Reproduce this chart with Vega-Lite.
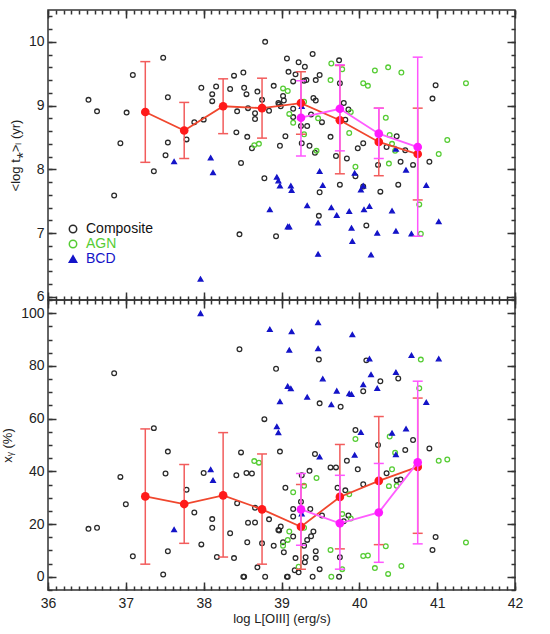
{
  "$schema": "https://vega.github.io/schema/vega-lite/v6.json",
  "padding": {"left": 0, "top": 8, "right": 5, "bottom": 0},
  "background": "white",
  "bounds": "flush",
  "config": {
    "view": {"stroke": "#333", "strokeWidth": 1.5},
    "axis": {
      "domain": false,
      "grid": false,
      "zindex": 1,
      "labelFont": "Liberation Sans",
      "labelFontSize": 14,
      "labelColor": "#222",
      "titleFont": "Liberation Sans",
      "titleFontSize": 13,
      "titleFontWeight": "normal",
      "titleColor": "#222",
      "labelOverlap": false,
      "labelFlush": false
    }
  },
  "datasets": {
    "top": [
      {"type": "Composite", "logL": 36.52, "age": 9.09}, {"type": "Composite", "logL": 36.63, "age": 8.91},
      {"type": "Composite", "logL": 36.85, "age": 7.59}, {"type": "Composite", "logL": 36.93, "age": 8.41},
      {"type": "Composite", "logL": 37.01, "age": 8.89}, {"type": "Composite", "logL": 37.09, "age": 9.48},
      {"type": "Composite", "logL": 37.36, "age": 7.97}, {"type": "Composite", "logL": 37.48, "age": 9.75},
      {"type": "Composite", "logL": 37.51, "age": 8.22}, {"type": "Composite", "logL": 37.54, "age": 9.13},
      {"type": "Composite", "logL": 37.54, "age": 8.42}, {"type": "Composite", "logL": 37.78, "age": 8.47},
      {"type": "Composite", "logL": 37.88, "age": 8.74}, {"type": "Composite", "logL": 37.97, "age": 9.28},
      {"type": "Composite", "logL": 38.0, "age": 8.78}, {"type": "Composite", "logL": 38.11, "age": 9.18},
      {"type": "Composite", "logL": 38.11, "age": 9.07}, {"type": "Composite", "logL": 38.16, "age": 9.3},
      {"type": "Composite", "logL": 38.34, "age": 9.26}, {"type": "Composite", "logL": 38.39, "age": 9.47},
      {"type": "Composite", "logL": 38.42, "age": 8.58}, {"type": "Composite", "logL": 38.43, "age": 8.91},
      {"type": "Composite", "logL": 38.46, "age": 6.98}, {"type": "Composite", "logL": 38.48, "age": 8.1},
      {"type": "Composite", "logL": 38.51, "age": 9.52}, {"type": "Composite", "logL": 38.52, "age": 9.28},
      {"type": "Composite", "logL": 38.55, "age": 9.18}, {"type": "Composite", "logL": 38.56, "age": 8.51},
      {"type": "Composite", "logL": 38.57, "age": 8.96}, {"type": "Composite", "logL": 38.62, "age": 8.33},
      {"type": "Composite", "logL": 38.66, "age": 8.88}, {"type": "Composite", "logL": 38.66, "age": 8.79},
      {"type": "Composite", "logL": 38.69, "age": 9.22}, {"type": "Composite", "logL": 38.75, "age": 9.09},
      {"type": "Composite", "logL": 38.78, "age": 7.86}, {"type": "Composite", "logL": 38.79, "age": 10.0},
      {"type": "Composite", "logL": 38.84, "age": 8.92}, {"type": "Composite", "logL": 38.9, "age": 9.31},
      {"type": "Composite", "logL": 38.93, "age": 6.95}, {"type": "Composite", "logL": 38.96, "age": 9.04},
      {"type": "Composite", "logL": 38.97, "age": 9.02}, {"type": "Composite", "logL": 38.98, "age": 8.37},
      {"type": "Composite", "logL": 38.99, "age": 8.99}, {"type": "Composite", "logL": 39.02, "age": 9.15},
      {"type": "Composite", "logL": 39.03, "age": 9.08}, {"type": "Composite", "logL": 39.05, "age": 8.52},
      {"type": "Composite", "logL": 39.07, "age": 9.74}, {"type": "Composite", "logL": 39.09, "age": 9.53},
      {"type": "Composite", "logL": 39.15, "age": 8.95}, {"type": "Composite", "logL": 39.15, "age": 9.38},
      {"type": "Composite", "logL": 39.15, "age": 8.82}, {"type": "Composite", "logL": 39.18, "age": 9.49},
      {"type": "Composite", "logL": 39.22, "age": 9.68}, {"type": "Composite", "logL": 39.29, "age": 9.39},
      {"type": "Composite", "logL": 39.3, "age": 9.61}, {"type": "Composite", "logL": 39.25, "age": 8.68},
      {"type": "Composite", "logL": 39.26, "age": 8.41}, {"type": "Composite", "logL": 39.32, "age": 9.4},
      {"type": "Composite", "logL": 39.33, "age": 8.68}, {"type": "Composite", "logL": 39.36, "age": 8.37},
      {"type": "Composite", "logL": 39.38, "age": 8.86}, {"type": "Composite", "logL": 39.4, "age": 9.81},
      {"type": "Composite", "logL": 39.43, "age": 8.26}, {"type": "Composite", "logL": 39.41, "age": 9.12},
      {"type": "Composite", "logL": 39.44, "age": 9.08}, {"type": "Composite", "logL": 39.44, "age": 9.4},
      {"type": "Composite", "logL": 39.49, "age": 9.48}, {"type": "Composite", "logL": 39.48, "age": 7.27},
      {"type": "Composite", "logL": 39.49, "age": 7.64}, {"type": "Composite", "logL": 39.52, "age": 8.74},
      {"type": "Composite", "logL": 39.63, "age": 8.51}, {"type": "Composite", "logL": 39.7, "age": 8.21},
      {"type": "Composite", "logL": 39.74, "age": 9.71}, {"type": "Composite", "logL": 39.75, "age": 9.35},
      {"type": "Composite", "logL": 39.75, "age": 7.76}, {"type": "Composite", "logL": 39.8, "age": 9.04},
      {"type": "Composite", "logL": 39.82, "age": 8.78}, {"type": "Composite", "logL": 39.84, "age": 8.17},
      {"type": "Composite", "logL": 39.86, "age": 8.94}, {"type": "Composite", "logL": 39.95, "age": 7.89},
      {"type": "Composite", "logL": 39.98, "age": 8.33}, {"type": "Composite", "logL": 40.05, "age": 8.41},
      {"type": "Composite", "logL": 40.05, "age": 7.73}, {"type": "Composite", "logL": 40.09, "age": 7.12},
      {"type": "Composite", "logL": 40.24, "age": 8.07}, {"type": "Composite", "logL": 40.27, "age": 7.65},
      {"type": "Composite", "logL": 40.35, "age": 8.35}, {"type": "Composite", "logL": 40.48, "age": 8.52},
      {"type": "Composite", "logL": 40.5, "age": 7.76}, {"type": "Composite", "logL": 40.53, "age": 8.12},
      {"type": "Composite", "logL": 40.59, "age": 8.3}, {"type": "Composite", "logL": 40.69, "age": 8.07},
      {"type": "Composite", "logL": 40.9, "age": 8.12}, {"type": "Composite", "logL": 40.94, "age": 9.11},
      {"type": "Composite", "logL": 40.98, "age": 9.32},
      {"type": "AGN", "logL": 38.65, "age": 8.38}, {"type": "AGN", "logL": 38.71, "age": 8.4},
      {"type": "AGN", "logL": 39.02, "age": 9.27}, {"type": "AGN", "logL": 39.08, "age": 9.23},
      {"type": "AGN", "logL": 39.1, "age": 8.87}, {"type": "AGN", "logL": 39.15, "age": 8.73},
      {"type": "AGN", "logL": 39.29, "age": 8.55}, {"type": "AGN", "logL": 39.29, "age": 9.06},
      {"type": "AGN", "logL": 39.47, "age": 8.8}, {"type": "AGN", "logL": 39.45, "age": 8.29},
      {"type": "AGN", "logL": 39.63, "age": 9.4}, {"type": "AGN", "logL": 39.64, "age": 9.66},
      {"type": "AGN", "logL": 39.78, "age": 9.57}, {"type": "AGN", "logL": 39.89, "age": 8.9},
      {"type": "AGN", "logL": 39.87, "age": 8.57}, {"type": "AGN", "logL": 39.95, "age": 8.04},
      {"type": "AGN", "logL": 40.05, "age": 9.35}, {"type": "AGN", "logL": 40.11, "age": 9.31},
      {"type": "AGN", "logL": 40.2, "age": 9.55}, {"type": "AGN", "logL": 40.34, "age": 8.81},
      {"type": "AGN", "logL": 40.37, "age": 9.6}, {"type": "AGN", "logL": 40.38, "age": 8.09},
      {"type": "AGN", "logL": 40.39, "age": 8.54}, {"type": "AGN", "logL": 40.42, "age": 8.4},
      {"type": "AGN", "logL": 40.46, "age": 8.29}, {"type": "AGN", "logL": 40.54, "age": 9.52},
      {"type": "AGN", "logL": 40.77, "age": 7.45}, {"type": "AGN", "logL": 40.79, "age": 6.99},
      {"type": "AGN", "logL": 41.02, "age": 8.24}, {"type": "AGN", "logL": 41.13, "age": 8.46},
      {"type": "AGN", "logL": 41.37, "age": 9.35},
      {"type": "BCD", "logL": 37.62, "age": 8.12}, {"type": "BCD", "logL": 37.96, "age": 6.28},
      {"type": "BCD", "logL": 38.09, "age": 8.18}, {"type": "BCD", "logL": 38.12, "age": 7.95},
      {"type": "BCD", "logL": 38.85, "age": 7.37}, {"type": "BCD", "logL": 38.94, "age": 7.88},
      {"type": "BCD", "logL": 38.96, "age": 7.82}, {"type": "BCD", "logL": 38.98, "age": 7.74},
      {"type": "BCD", "logL": 39.08, "age": 7.1}, {"type": "BCD", "logL": 39.1, "age": 7.1},
      {"type": "BCD", "logL": 39.12, "age": 7.74}, {"type": "BCD", "logL": 39.13, "age": 7.67},
      {"type": "BCD", "logL": 39.26, "age": 8.99}, {"type": "BCD", "logL": 39.33, "age": 7.43},
      {"type": "BCD", "logL": 39.47, "age": 7.16}, {"type": "BCD", "logL": 39.47, "age": 6.67},
      {"type": "BCD", "logL": 39.49, "age": 7.97}, {"type": "BCD", "logL": 39.53, "age": 7.75},
      {"type": "BCD", "logL": 39.64, "age": 7.4}, {"type": "BCD", "logL": 39.71, "age": 7.28},
      {"type": "BCD", "logL": 39.87, "age": 7.34}, {"type": "BCD", "logL": 39.9, "age": 7.08},
      {"type": "BCD", "logL": 39.91, "age": 6.87}, {"type": "BCD", "logL": 39.94, "age": 7.94},
      {"type": "BCD", "logL": 40.02, "age": 7.68}, {"type": "BCD", "logL": 40.05, "age": 7.74},
      {"type": "BCD", "logL": 40.06, "age": 7.37}, {"type": "BCD", "logL": 40.13, "age": 7.42},
      {"type": "BCD", "logL": 40.15, "age": 6.66}, {"type": "BCD", "logL": 40.23, "age": 7.0},
      {"type": "BCD", "logL": 40.42, "age": 7.35}, {"type": "BCD", "logL": 40.47, "age": 7.03},
      {"type": "BCD", "logL": 40.47, "age": 8.32}, {"type": "BCD", "logL": 40.6, "age": 7.99},
      {"type": "BCD", "logL": 40.67, "age": 6.99}, {"type": "BCD", "logL": 40.86, "age": 7.75},
      {"type": "BCD", "logL": 41.02, "age": 7.18}
    ],
    "bottom": [
      {"type": "Composite", "logL": 36.52, "xy": 18.2}, {"type": "Composite", "logL": 36.63, "xy": 18.6},
      {"type": "Composite", "logL": 36.85, "xy": 77.2}, {"type": "Composite", "logL": 36.93, "xy": 37.9},
      {"type": "Composite", "logL": 37.0, "xy": 27.5}, {"type": "Composite", "logL": 37.09, "xy": 7.8},
      {"type": "Composite", "logL": 37.36, "xy": 56.4}, {"type": "Composite", "logL": 37.48, "xy": 0.9},
      {"type": "Composite", "logL": 37.51, "xy": 39.2}, {"type": "Composite", "logL": 37.54, "xy": 47.5},
      {"type": "Composite", "logL": 37.54, "xy": 9.7}, {"type": "Composite", "logL": 37.78, "xy": 33.0},
      {"type": "Composite", "logL": 37.88, "xy": 24.4}, {"type": "Composite", "logL": 37.97, "xy": 12.3},
      {"type": "Composite", "logL": 38.0, "xy": 39.4}, {"type": "Composite", "logL": 38.11, "xy": 21.9},
      {"type": "Composite", "logL": 38.11, "xy": 18.6}, {"type": "Composite", "logL": 38.17, "xy": 7.5},
      {"type": "Composite", "logL": 38.34, "xy": 16.5}, {"type": "Composite", "logL": 38.39, "xy": 7.1},
      {"type": "Composite", "logL": 38.42, "xy": 38.5}, {"type": "Composite", "logL": 38.43, "xy": 27.9},
      {"type": "Composite", "logL": 38.46, "xy": 86.3}, {"type": "Composite", "logL": 38.48, "xy": 47.2},
      {"type": "Composite", "logL": 38.51, "xy": 0.0}, {"type": "Composite", "logL": 38.52, "xy": 0.0},
      {"type": "Composite", "logL": 38.55, "xy": 39.4}, {"type": "Composite", "logL": 38.56, "xy": 13.1},
      {"type": "Composite", "logL": 38.57, "xy": 20.5}, {"type": "Composite", "logL": 38.62, "xy": 39.2},
      {"type": "Composite", "logL": 38.66, "xy": 26.2}, {"type": "Composite", "logL": 38.66, "xy": 20.6},
      {"type": "Composite", "logL": 38.69, "xy": 3.6}, {"type": "Composite", "logL": 38.75, "xy": 12.7},
      {"type": "Composite", "logL": 38.78, "xy": 59.8}, {"type": "Composite", "logL": 38.79, "xy": 0.0},
      {"type": "Composite", "logL": 38.84, "xy": 21.8}, {"type": "Composite", "logL": 38.9, "xy": 11.8},
      {"type": "Composite", "logL": 38.93, "xy": 78.9}, {"type": "Composite", "logL": 38.96, "xy": 17.8},
      {"type": "Composite", "logL": 38.97, "xy": 17.6}, {"type": "Composite", "logL": 38.98, "xy": 47.5},
      {"type": "Composite", "logL": 38.99, "xy": 19.1}, {"type": "Composite", "logL": 39.02, "xy": 13.1},
      {"type": "Composite", "logL": 39.03, "xy": 9.3}, {"type": "Composite", "logL": 39.05, "xy": 33.8},
      {"type": "Composite", "logL": 39.07, "xy": 0.0}, {"type": "Composite", "logL": 39.08, "xy": 0.0},
      {"type": "Composite", "logL": 39.15, "xy": 15.3}, {"type": "Composite", "logL": 39.15, "xy": 25.7},
      {"type": "Composite", "logL": 39.15, "xy": 22.9}, {"type": "Composite", "logL": 39.18, "xy": 7.1},
      {"type": "Composite", "logL": 39.17, "xy": 2.5}, {"type": "Composite", "logL": 39.22, "xy": 1.7},
      {"type": "Composite", "logL": 39.25, "xy": 28.5}, {"type": "Composite", "logL": 39.26, "xy": 38.5},
      {"type": "Composite", "logL": 39.29, "xy": 11.8}, {"type": "Composite", "logL": 39.3, "xy": 5.5},
      {"type": "Composite", "logL": 39.31, "xy": 7.4}, {"type": "Composite", "logL": 39.33, "xy": 14.0},
      {"type": "Composite", "logL": 39.36, "xy": 40.2}, {"type": "Composite", "logL": 39.37, "xy": 25.7},
      {"type": "Composite", "logL": 39.38, "xy": 15.4}, {"type": "Composite", "logL": 39.4, "xy": 0.0},
      {"type": "Composite", "logL": 39.41, "xy": 17.2}, {"type": "Composite", "logL": 39.43, "xy": 46.6},
      {"type": "Composite", "logL": 39.44, "xy": 9.7}, {"type": "Composite", "logL": 39.44, "xy": 7.1},
      {"type": "Composite", "logL": 39.48, "xy": 82.4}, {"type": "Composite", "logL": 39.49, "xy": 2.9},
      {"type": "Composite", "logL": 39.49, "xy": 65.8}, {"type": "Composite", "logL": 39.52, "xy": 23.3},
      {"type": "Composite", "logL": 39.63, "xy": 41.5}, {"type": "Composite", "logL": 39.7, "xy": 41.5},
      {"type": "Composite", "logL": 39.72, "xy": 33.8}, {"type": "Composite", "logL": 39.74, "xy": 0.0},
      {"type": "Composite", "logL": 39.75, "xy": 7.4}, {"type": "Composite", "logL": 39.76, "xy": 64.5},
      {"type": "Composite", "logL": 39.8, "xy": 21.1}, {"type": "Composite", "logL": 39.82, "xy": 32.8},
      {"type": "Composite", "logL": 39.84, "xy": 44.0}, {"type": "Composite", "logL": 39.86, "xy": 23.3},
      {"type": "Composite", "logL": 39.95, "xy": 55.7}, {"type": "Composite", "logL": 39.98, "xy": 40.8},
      {"type": "Composite", "logL": 40.05, "xy": 35.1}, {"type": "Composite", "logL": 40.05, "xy": 70.4},
      {"type": "Composite", "logL": 40.09, "xy": 82.1}, {"type": "Composite", "logL": 40.24, "xy": 50.0},
      {"type": "Composite", "logL": 40.27, "xy": 74.2}, {"type": "Composite", "logL": 40.35, "xy": 39.3},
      {"type": "Composite", "logL": 40.48, "xy": 36.6}, {"type": "Composite", "logL": 40.5, "xy": 75.2},
      {"type": "Composite", "logL": 40.53, "xy": 36.9}, {"type": "Composite", "logL": 40.59, "xy": 48.1},
      {"type": "Composite", "logL": 40.69, "xy": 51.9}, {"type": "Composite", "logL": 40.9, "xy": 48.7},
      {"type": "Composite", "logL": 40.94, "xy": 10.2}, {"type": "Composite", "logL": 40.98, "xy": 15.1},
      {"type": "AGN", "logL": 38.65, "xy": 43.9}, {"type": "AGN", "logL": 38.71, "xy": 43.3},
      {"type": "AGN", "logL": 39.02, "xy": 11.8}, {"type": "AGN", "logL": 39.08, "xy": 14.0},
      {"type": "AGN", "logL": 39.1, "xy": 17.2}, {"type": "AGN", "logL": 39.15, "xy": 32.1},
      {"type": "AGN", "logL": 39.22, "xy": 3.8}, {"type": "AGN", "logL": 39.29, "xy": 18.6},
      {"type": "AGN", "logL": 39.29, "xy": 34.5}, {"type": "AGN", "logL": 39.45, "xy": 37.5},
      {"type": "AGN", "logL": 39.63, "xy": 10.2}, {"type": "AGN", "logL": 39.64, "xy": 0.0},
      {"type": "AGN", "logL": 39.78, "xy": 2.9}, {"type": "AGN", "logL": 39.78, "xy": 23.8},
      {"type": "AGN", "logL": 39.87, "xy": 31.3}, {"type": "AGN", "logL": 39.89, "xy": 22.1},
      {"type": "AGN", "logL": 39.95, "xy": 52.3}, {"type": "AGN", "logL": 40.05, "xy": 7.9},
      {"type": "AGN", "logL": 40.11, "xy": 8.1}, {"type": "AGN", "logL": 40.2, "xy": 3.3},
      {"type": "AGN", "logL": 40.34, "xy": 11.6}, {"type": "AGN", "logL": 40.37, "xy": 1.1},
      {"type": "AGN", "logL": 40.38, "xy": 34.4}, {"type": "AGN", "logL": 40.39, "xy": 53.2},
      {"type": "AGN", "logL": 40.42, "xy": 40.8}, {"type": "AGN", "logL": 40.46, "xy": 47.1},
      {"type": "AGN", "logL": 40.54, "xy": 4.1}, {"type": "AGN", "logL": 40.48, "xy": 34.5},
      {"type": "AGN", "logL": 40.77, "xy": 71.5}, {"type": "AGN", "logL": 40.79, "xy": 82.4},
      {"type": "AGN", "logL": 41.02, "xy": 44.0}, {"type": "AGN", "logL": 41.13, "xy": 44.5},
      {"type": "AGN", "logL": 41.37, "xy": 13.0},
      {"type": "BCD", "logL": 37.62, "xy": 17.9}, {"type": "BCD", "logL": 37.96, "xy": 99.9},
      {"type": "BCD", "logL": 38.09, "xy": 40.7}, {"type": "BCD", "logL": 38.12, "xy": 36.6},
      {"type": "BCD", "logL": 38.85, "xy": 93.9}, {"type": "BCD", "logL": 38.94, "xy": 57.0},
      {"type": "BCD", "logL": 38.96, "xy": 54.7}, {"type": "BCD", "logL": 38.98, "xy": 66.5},
      {"type": "BCD", "logL": 39.08, "xy": 72.3}, {"type": "BCD", "logL": 39.1, "xy": 86.0},
      {"type": "BCD", "logL": 39.12, "xy": 71.4}, {"type": "BCD", "logL": 39.13, "xy": 93.0},
      {"type": "BCD", "logL": 39.26, "xy": 23.9}, {"type": "BCD", "logL": 39.33, "xy": 68.2},
      {"type": "BCD", "logL": 39.47, "xy": 96.4}, {"type": "BCD", "logL": 39.47, "xy": 86.6},
      {"type": "BCD", "logL": 39.49, "xy": 45.5}, {"type": "BCD", "logL": 39.53, "xy": 75.1},
      {"type": "BCD", "logL": 39.64, "xy": 65.3}, {"type": "BCD", "logL": 39.71, "xy": 70.5},
      {"type": "BCD", "logL": 39.87, "xy": 69.5}, {"type": "BCD", "logL": 39.9, "xy": 69.2},
      {"type": "BCD", "logL": 39.91, "xy": 91.9}, {"type": "BCD", "logL": 39.94, "xy": 46.2},
      {"type": "BCD", "logL": 40.02, "xy": 54.8}, {"type": "BCD", "logL": 40.05, "xy": 72.9},
      {"type": "BCD", "logL": 40.13, "xy": 82.7}, {"type": "BCD", "logL": 40.15, "xy": 76.7},
      {"type": "BCD", "logL": 40.23, "xy": 71.5}, {"type": "BCD", "logL": 40.42, "xy": 54.5},
      {"type": "BCD", "logL": 40.47, "xy": 77.6}, {"type": "BCD", "logL": 40.47, "xy": 46.4},
      {"type": "BCD", "logL": 40.6, "xy": 56.1}, {"type": "BCD", "logL": 40.67, "xy": 84.0},
      {"type": "BCD", "logL": 40.86, "xy": 66.2}, {"type": "BCD", "logL": 41.02, "xy": 82.7}
    ],
    "bins": [
      {"series": "red", "logL": 37.25, "age": 8.9, "age_lo": 8.11, "age_hi": 9.69, "xy": 30.5, "xy_lo": 4.8, "xy_hi": 56.1},
      {"series": "red", "logL": 37.75, "age": 8.61, "age_lo": 8.17, "age_hi": 9.05, "xy": 27.6, "xy_lo": 12.7, "xy_hi": 42.6},
      {"series": "red", "logL": 38.25, "age": 8.99, "age_lo": 8.56, "age_hi": 9.42, "xy": 30.9, "xy_lo": 7.5, "xy_hi": 54.7},
      {"series": "red", "logL": 38.75, "age": 8.96, "age_lo": 8.49, "age_hi": 9.43, "xy": 25.6, "xy_lo": 4.8, "xy_hi": 46.6},
      {"series": "red", "logL": 39.25, "age": 9.04, "age_lo": 8.55, "age_hi": 9.53, "xy": 19.0, "xy_lo": 2.9, "xy_hi": 35.0},
      {"series": "red", "logL": 39.75, "age": 8.77, "age_lo": 7.93, "age_hi": 9.63, "xy": 30.3, "xy_lo": 10.6, "xy_hi": 50.2},
      {"series": "red", "logL": 40.25, "age": 8.43, "age_lo": 7.9, "age_hi": 8.96, "xy": 36.4, "xy_lo": 12.2, "xy_hi": 60.8},
      {"series": "red", "logL": 40.75, "age": 8.24, "age_lo": 7.52, "age_hi": 8.96, "xy": 41.7, "xy_lo": 16.5, "xy_hi": 67.8},
      {"series": "magenta", "logL": 39.25, "age": 8.81, "age_lo": 8.21, "age_hi": 9.39, "xy": 25.6, "xy_lo": 12.0, "xy_hi": 39.2},
      {"series": "magenta", "logL": 39.75, "age": 8.95, "age_lo": 8.29, "age_hi": 9.64, "xy": 20.3, "xy_lo": 2.9, "xy_hi": 38.5},
      {"series": "magenta", "logL": 40.25, "age": 8.56, "age_lo": 8.17, "age_hi": 8.96, "xy": 24.4, "xy_lo": 5.5, "xy_hi": 43.0},
      {"series": "magenta", "logL": 40.75, "age": 8.35, "age_lo": 6.95, "age_hi": 9.76, "xy": 43.4, "xy_lo": 12.5, "xy_hi": 74.2}
    ]
  },
  "spacing": 0,
  "resolve": {"scale": {"color": "independent", "fill": "independent", "shape": "independent"}},
  "vconcat": [
    {
      "width": 467,
      "height": 290,
      "resolve": {"axis": {"x": "independent", "y": "independent"}},
      "layer": [
        {
          "data": {"name": "top"},
          "mark": {"type": "point", "filled": false, "size": 22, "strokeWidth": 1.3, "opacity": 1},
          "encoding": {
            "x": {
              "field": "logL", "type": "quantitative",
              "scale": {"domain": [36, 42], "nice": false, "zero": false},
              "axis": {"orient": "bottom", "title": null, "labels": false, "values": [36, 37, 38, 39, 40, 41, 42], "minExtent": 0, "maxExtent": 0, "tickColor": "#333", "tickWidth": 1.5, "tickSize": -8}
            },
            "y": {
              "field": "age", "type": "quantitative",
              "scale": {"domain": [5.95, 10.5], "nice": false, "zero": false},
              "axis": {"orient": "left", "title": "<log t⁎>ₗ (yr)", "values": [6, 7, 8, 9, 10], "format": "d", "labelPadding": 12, "titlePadding": 6, "tickColor": "#333", "tickWidth": 1.5, "tickSize": -8}
            },
            "color": {
              "field": "type", "type": "nominal",
              "scale": {"domain": ["Composite", "AGN", "BCD"], "range": ["#2a2a2a", "#55cc33", "#1414c8"]},
              "legend": {
                "title": null, "orient": "none", "legendX": 18, "legendY": 212,
                "labelFont": "Liberation Sans", "labelFontSize": 14, "symbolSize": 55, "symbolStrokeWidth": 1.5,
                "rowPadding": 1, "labelOffset": 6,
                "labelColor": {"expr": "datum.label === 'AGN' ? '#55cc33' : datum.label === 'BCD' ? '#1414c8' : '#111'"}
              }
            },
            "fill": {
              "field": "type", "type": "nominal",
              "scale": {"domain": ["Composite", "AGN", "BCD"], "range": ["transparent", "transparent", "#1414c8"]},
              "legend": {
                "title": null, "orient": "none", "legendX": 18, "legendY": 212,
                "labelFont": "Liberation Sans", "labelFontSize": 14, "symbolSize": 55, "symbolStrokeWidth": 1.5,
                "rowPadding": 1, "labelOffset": 6,
                "labelColor": {"expr": "datum.label === 'AGN' ? '#55cc33' : datum.label === 'BCD' ? '#1414c8' : '#111'"}
              }
            },
            "shape": {
              "field": "type", "type": "nominal",
              "scale": {"domain": ["Composite", "AGN", "BCD"], "range": ["circle", "circle", "triangle-up"]},
              "legend": {
                "title": null, "orient": "none", "legendX": 18, "legendY": 212,
                "labelFont": "Liberation Sans", "labelFontSize": 14, "symbolSize": 55, "symbolStrokeWidth": 1.5,
                "rowPadding": 1, "labelOffset": 6,
                "labelColor": {"expr": "datum.label === 'AGN' ? '#55cc33' : datum.label === 'BCD' ? '#1414c8' : '#111'"}
              }
            }
          }
        },
        {
          "data": {"name": "bins"},
          "transform": [{"filter": "datum.series === 'red'"}],
          "encoding": {"x": {"field": "logL", "type": "quantitative", "axis": null}},
          "layer": [
            {"mark": {"type": "rule", "color": "#f25c5c", "strokeWidth": 1.5}, "encoding": {"y": {"field": "age_lo", "type": "quantitative", "axis": null}, "y2": {"field": "age_hi"}}},
            {"mark": {"type": "tick", "orient": "horizontal", "size": 10, "thickness": 1.5, "color": "#f25c5c", "opacity": 1}, "encoding": {"y": {"field": "age_lo", "type": "quantitative", "axis": null}}},
            {"mark": {"type": "tick", "orient": "horizontal", "size": 10, "thickness": 1.5, "color": "#f25c5c", "opacity": 1}, "encoding": {"y": {"field": "age_hi", "type": "quantitative", "axis": null}}},
            {"mark": {"type": "line", "color": "#f0472e", "strokeWidth": 1.8}, "encoding": {"y": {"field": "age", "type": "quantitative", "axis": null}}},
            {"mark": {"type": "circle", "color": "#ff1a1a", "size": 75, "opacity": 1}, "encoding": {"y": {"field": "age", "type": "quantitative", "axis": null}}}
          ]
        },
        {
          "data": {"name": "bins"},
          "transform": [{"filter": "datum.series === 'magenta'"}],
          "encoding": {"x": {"field": "logL", "type": "quantitative", "axis": null}},
          "layer": [
            {"mark": {"type": "rule", "color": "#ff55ff", "strokeWidth": 1.5}, "encoding": {"y": {"field": "age_lo", "type": "quantitative", "axis": null}, "y2": {"field": "age_hi"}}},
            {"mark": {"type": "tick", "orient": "horizontal", "size": 10, "thickness": 1.5, "color": "#ff55ff", "opacity": 1}, "encoding": {"y": {"field": "age_lo", "type": "quantitative", "axis": null}}},
            {"mark": {"type": "tick", "orient": "horizontal", "size": 10, "thickness": 1.5, "color": "#ff55ff", "opacity": 1}, "encoding": {"y": {"field": "age_hi", "type": "quantitative", "axis": null}}},
            {"mark": {"type": "line", "color": "#ff5cff", "strokeWidth": 1.8}, "encoding": {"y": {"field": "age", "type": "quantitative", "axis": null}}},
            {"mark": {"type": "circle", "color": "#ff1aff", "size": 75, "opacity": 1}, "encoding": {"y": {"field": "age", "type": "quantitative", "axis": null}}}
          ]
        },
        {
          "data": {"name": "bins"},
          "mark": {"type": "point", "opacity": 0},
          "encoding": {
            "x": {"field": "logL", "type": "quantitative", "axis": {"orient": "bottom", "title": null, "labels": false, "tickCount": 60, "minExtent": 0, "maxExtent": 0, "tickColor": "#333", "tickWidth": 1.5, "tickSize": -4}},
            "y": {"field": "age", "type": "quantitative", "axis": {"orient": "left", "title": null, "labels": false, "tickCount": 23, "minExtent": 0, "maxExtent": 0, "tickColor": "#333", "tickWidth": 1.5, "tickSize": -4}}
          }
        },
        {
          "data": {"name": "bins"},
          "mark": {"type": "point", "opacity": 0},
          "encoding": {
            "x": {"field": "logL", "type": "quantitative", "axis": {"orient": "top", "title": null, "labels": false, "values": [36, 37, 38, 39, 40, 41, 42], "minExtent": 0, "maxExtent": 0, "tickColor": "#333", "tickWidth": 1.5, "tickSize": -8}},
            "y": {"field": "age", "type": "quantitative", "axis": {"orient": "right", "title": null, "labels": false, "values": [6, 7, 8, 9, 10], "minExtent": 0, "maxExtent": 0, "tickColor": "#333", "tickWidth": 1.5, "tickSize": -8}}
          }
        },
        {
          "data": {"name": "bins"},
          "mark": {"type": "point", "opacity": 0},
          "encoding": {
            "x": {"field": "logL", "type": "quantitative", "axis": {"orient": "top", "title": null, "labels": false, "tickCount": 60, "minExtent": 0, "maxExtent": 0, "tickColor": "#333", "tickWidth": 1.5, "tickSize": -4}},
            "y": {"field": "age", "type": "quantitative", "axis": {"orient": "right", "title": null, "labels": false, "tickCount": 23, "minExtent": 0, "maxExtent": 0, "tickColor": "#333", "tickWidth": 1.5, "tickSize": -4}}
          }
        }
      ]
    },
    {
      "width": 467,
      "height": 290,
      "resolve": {"axis": {"x": "independent", "y": "independent"}},
      "layer": [
        {
          "data": {"name": "bottom"},
          "mark": {"type": "point", "filled": false, "size": 22, "strokeWidth": 1.3, "opacity": 1},
          "encoding": {
            "x": {
              "field": "logL", "type": "quantitative",
              "scale": {"domain": [36, 42], "nice": false, "zero": false},
              "axis": {"orient": "bottom", "title": "log L[OIII] (erg/s)", "values": [36, 37, 38, 39, 40, 41, 42], "format": "d", "labelPadding": 14, "titlePadding": 2, "tickColor": "#333", "tickWidth": 1.5, "tickSize": -8}
            },
            "y": {
              "field": "xy", "type": "quantitative",
              "scale": {"domain": [-5, 105], "nice": false, "zero": false},
              "axis": {"orient": "left", "title": "xᵧ (%)", "values": [0, 20, 40, 60, 80, 100], "format": "d", "labelPadding": 12, "titlePadding": 6, "tickColor": "#333", "tickWidth": 1.5, "tickSize": -8}
            },
            "color": {
              "field": "type", "type": "nominal",
              "scale": {"domain": ["Composite", "AGN", "BCD"], "range": ["#2a2a2a", "#55cc33", "#1414c8"]},
              "legend": null
            },
            "fill": {
              "field": "type", "type": "nominal",
              "scale": {"domain": ["Composite", "AGN", "BCD"], "range": ["transparent", "transparent", "#1414c8"]},
              "legend": null
            },
            "shape": {
              "field": "type", "type": "nominal",
              "scale": {"domain": ["Composite", "AGN", "BCD"], "range": ["circle", "circle", "triangle-up"]},
              "legend": null
            }
          }
        },
        {
          "data": {"name": "bins"},
          "transform": [{"filter": "datum.series === 'red'"}],
          "encoding": {"x": {"field": "logL", "type": "quantitative", "axis": null}},
          "layer": [
            {"mark": {"type": "rule", "color": "#f25c5c", "strokeWidth": 1.5}, "encoding": {"y": {"field": "xy_lo", "type": "quantitative", "axis": null}, "y2": {"field": "xy_hi"}}},
            {"mark": {"type": "tick", "orient": "horizontal", "size": 10, "thickness": 1.5, "color": "#f25c5c", "opacity": 1}, "encoding": {"y": {"field": "xy_lo", "type": "quantitative", "axis": null}}},
            {"mark": {"type": "tick", "orient": "horizontal", "size": 10, "thickness": 1.5, "color": "#f25c5c", "opacity": 1}, "encoding": {"y": {"field": "xy_hi", "type": "quantitative", "axis": null}}},
            {"mark": {"type": "line", "color": "#f0472e", "strokeWidth": 1.8}, "encoding": {"y": {"field": "xy", "type": "quantitative", "axis": null}}},
            {"mark": {"type": "circle", "color": "#ff1a1a", "size": 75, "opacity": 1}, "encoding": {"y": {"field": "xy", "type": "quantitative", "axis": null}}}
          ]
        },
        {
          "data": {"name": "bins"},
          "transform": [{"filter": "datum.series === 'magenta'"}],
          "encoding": {"x": {"field": "logL", "type": "quantitative", "axis": null}},
          "layer": [
            {"mark": {"type": "rule", "color": "#ff55ff", "strokeWidth": 1.5}, "encoding": {"y": {"field": "xy_lo", "type": "quantitative", "axis": null}, "y2": {"field": "xy_hi"}}},
            {"mark": {"type": "tick", "orient": "horizontal", "size": 10, "thickness": 1.5, "color": "#ff55ff", "opacity": 1}, "encoding": {"y": {"field": "xy_lo", "type": "quantitative", "axis": null}}},
            {"mark": {"type": "tick", "orient": "horizontal", "size": 10, "thickness": 1.5, "color": "#ff55ff", "opacity": 1}, "encoding": {"y": {"field": "xy_hi", "type": "quantitative", "axis": null}}},
            {"mark": {"type": "line", "color": "#ff5cff", "strokeWidth": 1.8}, "encoding": {"y": {"field": "xy", "type": "quantitative", "axis": null}}},
            {"mark": {"type": "circle", "color": "#ff1aff", "size": 75, "opacity": 1}, "encoding": {"y": {"field": "xy", "type": "quantitative", "axis": null}}}
          ]
        },
        {
          "data": {"name": "bins"},
          "mark": {"type": "point", "opacity": 0},
          "encoding": {
            "x": {"field": "logL", "type": "quantitative", "axis": {"orient": "bottom", "title": null, "labels": false, "tickCount": 60, "minExtent": 0, "maxExtent": 0, "tickColor": "#333", "tickWidth": 1.5, "tickSize": -4}},
            "y": {"field": "xy", "type": "quantitative", "axis": {"orient": "left", "title": null, "labels": false, "tickCount": 22, "minExtent": 0, "maxExtent": 0, "tickColor": "#333", "tickWidth": 1.5, "tickSize": -4}}
          }
        },
        {
          "data": {"name": "bins"},
          "mark": {"type": "point", "opacity": 0},
          "encoding": {
            "x": {"field": "logL", "type": "quantitative", "axis": {"orient": "top", "title": null, "labels": false, "values": [36, 37, 38, 39, 40, 41, 42], "minExtent": 0, "maxExtent": 0, "tickColor": "#333", "tickWidth": 1.5, "tickSize": -8}},
            "y": {"field": "xy", "type": "quantitative", "axis": {"orient": "right", "title": null, "labels": false, "values": [0, 20, 40, 60, 80, 100], "minExtent": 0, "maxExtent": 0, "tickColor": "#333", "tickWidth": 1.5, "tickSize": -8}}
          }
        },
        {
          "data": {"name": "bins"},
          "mark": {"type": "point", "opacity": 0},
          "encoding": {
            "x": {"field": "logL", "type": "quantitative", "axis": {"orient": "top", "title": null, "labels": false, "tickCount": 60, "minExtent": 0, "maxExtent": 0, "tickColor": "#333", "tickWidth": 1.5, "tickSize": -4}},
            "y": {"field": "xy", "type": "quantitative", "axis": {"orient": "right", "title": null, "labels": false, "tickCount": 22, "minExtent": 0, "maxExtent": 0, "tickColor": "#333", "tickWidth": 1.5, "tickSize": -4}}
          }
        }
      ]
    }
  ]
}
